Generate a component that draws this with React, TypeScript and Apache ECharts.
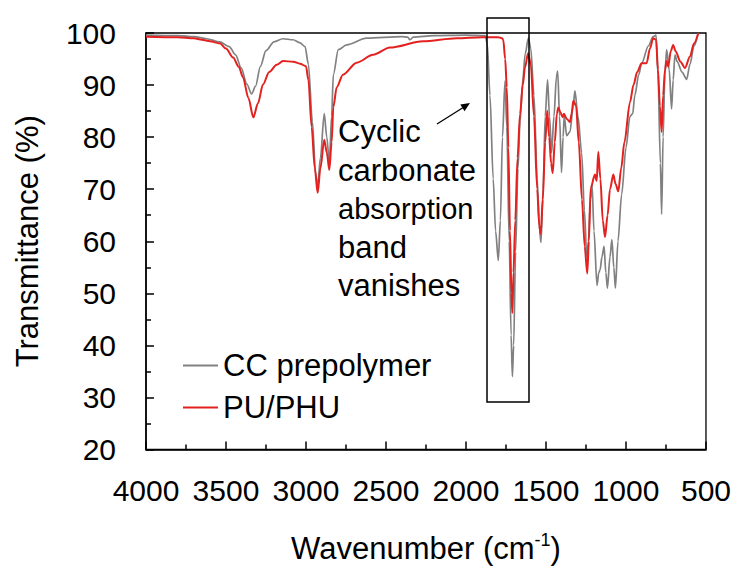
import React, { useEffect, useRef } from "react";
import * as echarts from "echarts";

const FONT = "'Liberation Sans', Arial, sans-serif";

const xTicks = [4000, 3500, 3000, 2500, 2000, 1500, 1000, 500];
const yTicks = [20, 30, 40, 50, 60, 70, 80, 90, 100];
const seriesNames = ["CC prepolymer", "PU/PHU"];

// CC prepolymer (grey): [wavenumber, transmittance]
const ccPrepolymer: [number, number][] = [
  [4000, 99.6], [3800, 99.5], [3700, 99.3], [3620, 98.9], [3540, 98.3], [3480, 97.4], [3440, 95.8],
  [3405, 93.3], [3370, 90.2], [3340, 88.3], [3315, 89.8], [3285, 93.6], [3250, 96.6], [3200, 98.3], [3144, 98.9],
  [3081, 98.7], [3037, 98.1], [3006, 97.4], [2985, 94], [2960, 83], [2940, 73], [2927, 70.5],
  [2910, 76], [2886, 84.5], [2870, 80], [2854, 75], [2840, 84], [2829, 92], [2798, 96.8],
  [2746, 97.7], [2621, 99.0], [2400, 99.3], [2365, 99.2], [2350, 98.7], [2330, 99.2], [2200, 99.5],
  [2000, 99.6], [1880, 99.5], [1867, 98], [1850, 88], [1830, 72], [1815, 62], [1798, 56.3],
  [1785, 64], [1772, 80], [1756, 90.8], [1745, 82], [1730, 60], [1718, 42], [1710, 34],
  [1702, 40], [1690, 58], [1675, 74], [1662, 83], [1645, 91], [1630, 96], [1610, 99.0],
  [1595, 97], [1575, 88], [1555, 72], [1540, 62], [1531, 59.8], [1518, 70], [1505, 84],
  [1490, 91], [1478, 84], [1465, 77], [1450, 84], [1435, 91.5], [1427, 92.7], [1415, 84],
  [1403, 73.2], [1393, 80], [1386, 84.1], [1371, 80.3], [1350, 81], [1330, 86], [1319, 88.9],
  [1300, 84], [1277, 77], [1260, 66], [1245, 57], [1235, 60], [1222, 68], [1212, 70.9],
  [1200, 62], [1181, 51.5], [1170, 54], [1162, 54.5], [1150, 57], [1137, 59], [1126, 54],
  [1116, 51], [1100, 57], [1088, 60.3], [1076, 55], [1066, 51], [1050, 60], [1027, 69],
  [1000, 78], [975, 84], [958, 84.5], [945, 88], [920, 92], [902, 94.2], [860, 97.5],
  [830, 99.3], [812, 99.6], [800, 92], [785, 75], [777, 65.2], [768, 80], [757, 92],
  [746, 96.8], [730, 93], [715, 85.4], [705, 91], [694, 95.8], [680, 94.5], [650, 92.5],
  [621, 91.1], [600, 94], [575, 97.5], [548, 100],
];

// PU/PHU (red): [wavenumber, transmittance]
const puPhu: [number, number][] = [
  [4000, 99.3], [3800, 99.2], [3700, 99.0], [3650, 98.7], [3600, 98.4], [3537, 98.0], [3500, 97],
  [3456, 95.3], [3420, 93.5], [3394, 91.5], [3360, 87.5], [3329, 83.8], [3300, 86.5], [3269, 90.1],
  [3230, 92.5], [3183, 93.9], [3144, 94.6], [3080, 94.5], [3037, 94.1], [3000, 93.6], [2985, 91],
  [2965, 82], [2945, 74], [2927, 69.3], [2910, 74], [2886, 79.5], [2870, 77], [2854, 73.7],
  [2840, 79], [2829, 85.8], [2808, 89.6], [2769, 92.0], [2683, 94.3], [2581, 95.8], [2475, 97.2],
  [2269, 98.4], [2058, 99.0], [1900, 99.2], [1800, 99.2], [1775, 99.0], [1767, 98.7], [1755, 95],
  [1745, 89.6], [1735, 78], [1725, 62], [1716, 50], [1710, 46.2], [1703, 54], [1692, 64],
  [1678, 76], [1662, 84.5], [1645, 90], [1631, 93.4], [1612, 96.1], [1595, 94], [1575, 84],
  [1555, 70], [1542, 63], [1533, 61.4], [1520, 68], [1505, 79], [1492, 85.1], [1480, 80],
  [1468, 75], [1458, 73.1], [1445, 79], [1432, 84.5], [1423, 85.7], [1410, 84.8], [1396, 83.8],
  [1388, 84.5], [1370, 83.5], [1350, 82.9], [1340, 84.5], [1329, 87], [1312, 86], [1295, 79],
  [1275, 68], [1258, 59], [1242, 53.8], [1232, 60], [1221, 70.2], [1194, 72.8], [1183, 71.6],
  [1173, 77.2], [1160, 72], [1145, 64], [1131, 60.8], [1115, 65], [1100, 70], [1079, 72.8],
  [1065, 71], [1048, 69.6], [1030, 74], [1010, 79], [975, 86.7], [953, 90], [930, 92.5],
  [902, 94.2], [871, 94.2], [850, 97], [830, 99.0], [812, 98.7], [800, 93], [788, 86],
  [777, 81.0], [768, 88], [756, 93], [746, 94.6], [736, 93.6], [720, 96.5], [705, 97.7],
  [690, 96.5], [660, 94.5], [631, 93.3], [600, 95.5], [575, 98], [548, 100],
];

const annotationLines = ["Cyclic", "carbonate", "absorption", "band", "vanishes"];

export default function App() {
  const ref = useRef<HTMLDivElement>(null);
  useEffect(() => {
    if (!ref.current) return;
    const chart = echarts.init(ref.current, undefined, { renderer: "svg" });
    const axisLine = { show: true, onZero: false, lineStyle: { color: "#000", width: 1.5 } };
    const lineYs = [131, 170, 209, 247, 285];
    const option: any = {
      animation: false,
      backgroundColor: "#fff",
      grid: {
        left: 146, right: 28, top: 33, bottom: 114,
        show: true, borderColor: "#000", borderWidth: 1.3, backgroundColor: "transparent",
      },
      legend: {
        orient: "vertical",
        left: 178,
        top: 345,
        itemWidth: 35,
        itemHeight: 2,
        itemGap: 11,
        icon: "rect",
        data: seriesNames,
        textStyle: { fontSize: 31, color: "#000", fontFamily: FONT },
      },
      xAxis: {
        type: "value",
        min: 500,
        max: 4000,
        interval: 500,
        inverse: true,
        axisLine,
        axisTick: { show: true, inside: true, length: 8, lineStyle: { color: "#000", width: 1.5 } },
        minorTick: { show: true, splitNumber: 2, length: 5, lineStyle: { color: "#000", width: 1.5 } },
        splitLine: { show: false },
        axisLabel: {
          fontSize: 30, color: "#000", margin: 26, fontFamily: FONT,
          formatter: (v: number) => (xTicks.includes(v) ? String(v) : ""),
        },
        name: "{a|Wavenumber (cm}{s|-1}{a|)}",
        nameLocation: "middle",
        nameGap: 81,
        nameTextStyle: {
          rich: {
            a: { fontSize: 31, color: "#000", fontFamily: FONT, lineHeight: 36 },
            s: { fontSize: 18, color: "#000", fontFamily: FONT, verticalAlign: "top", lineHeight: 36 },
          },
        },
      },
      yAxis: {
        type: "value",
        min: 20,
        max: 100,
        interval: 10,
        axisLine,
        axisTick: { show: true, inside: true, length: 8, lineStyle: { color: "#000", width: 1.5 } },
        minorTick: { show: true, splitNumber: 2, length: 5, lineStyle: { color: "#000", width: 1.5 } },
        splitLine: { show: false },
        axisLabel: {
          fontSize: 30, color: "#000", margin: 30, fontFamily: FONT,
          formatter: (v: number) => (yTicks.includes(v) ? String(v) : ""),
        },
        name: "Transmittance (%)",
        nameLocation: "middle",
        nameRotate: 90,
        nameGap: 103,
        nameTextStyle: { fontSize: 31, color: "#000", fontFamily: FONT },
      },
      series: [
        {
          name: seriesNames[0],
          type: "line",
          data: ccPrepolymer,
          symbol: "none",
          smooth: 0.3,
          smoothMonotone: "x",
          lineStyle: { color: "#818181", width: 1.7 },
          itemStyle: { color: "#818181" },
          z: 2,
        },
        {
          name: seriesNames[1],
          type: "line",
          data: puPhu,
          symbol: "none",
          smooth: 0.3,
          smoothMonotone: "x",
          lineStyle: { color: "#e3211f", width: 2 },
          itemStyle: { color: "#e3211f" },
          z: 3,
        },
      ],
      graphic: [
        {
          type: "rect",
          shape: { x: 487, y: 18, width: 42, height: 384 },
          style: { fill: "none", stroke: "#000", lineWidth: 1.5 },
          z: 10,
        },
        {
          type: "line",
          shape: { x1: 437, y1: 124, x2: 464, y2: 107 },
          style: { stroke: "#000", lineWidth: 1.3 },
          z: 10,
        },
        {
          type: "polygon",
          shape: { points: [[470, 103], [464.5, 111.2], [460.3, 104.4]] },
          style: { fill: "#000" },
          z: 10,
        },
        ...annotationLines.map((t, i) => ({
          type: "text",
          x: 338,
          y: lineYs[i],
          z: 10,
          style: {
            text: t,
            fontSize: t === "absorption" ? 29 : 31,
            fontFamily: FONT,
            fill: "#000",
            align: "left",
            verticalAlign: "middle",
          },
        })),
      ],
    };
    chart.setOption(option);
    return () => chart.dispose();
  }, []);
  return (
    <div
      ref={ref}
      style={{ position: "fixed", left: 0, top: 0, width: 734, height: 569, background: "#fff" }}
    />
  );
}
